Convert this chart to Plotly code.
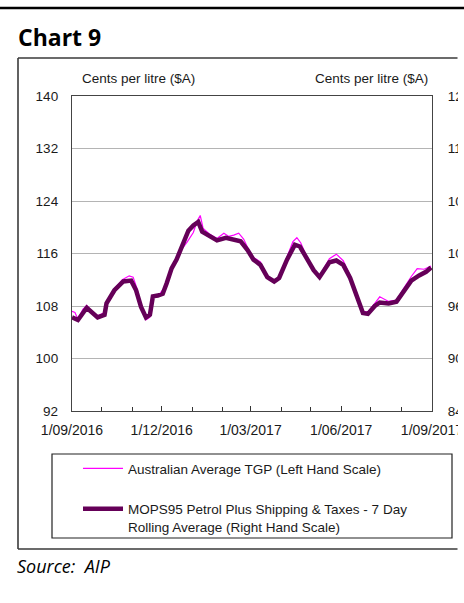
import plotly.graph_objects as go

# ---------------- data ----------------
tgp_dates = ["2016-09-01","2016-09-04","2016-09-07","2016-09-12","2016-09-16","2016-09-21","2016-09-27",
             "2016-10-04","2016-10-07","2016-10-14","2016-10-22","2016-10-29","2016-11-02","2016-11-06",
             "2016-11-10","2016-11-15","2016-11-19","2016-11-22","2016-11-28","2016-12-02","2016-12-06",
             "2016-12-11","2016-12-16","2016-12-21","2016-12-27","2017-01-02","2017-01-06","2017-01-09",
             "2017-01-12","2017-01-18","2017-01-26","2017-02-02","2017-02-07","2017-02-12","2017-02-17",
             "2017-02-22","2017-02-27","2017-03-04","2017-03-11","2017-03-18","2017-03-25","2017-03-30",
             "2017-04-07","2017-04-13","2017-04-17","2017-04-21","2017-04-27","2017-05-04","2017-05-10",
             "2017-05-15","2017-05-20","2017-05-27","2017-06-03","2017-06-10","2017-06-16","2017-06-23",
             "2017-06-28","2017-07-05","2017-07-10","2017-07-19","2017-07-27","2017-08-03","2017-08-11",
             "2017-08-17","2017-08-24","2017-08-31"]
tgp_values = [107.2,107.0,106.0,107.5,108.1,107.2,106.5,
              107.0,108.8,110.6,112.0,112.6,112.4,110.6,
              108.0,105.9,106.3,109.2,109.7,110.4,111.2,
              113.5,115.2,116.6,117.8,119.2,121.0,121.8,
              119.8,119.0,118.3,119.1,118.6,118.8,119.1,
              118.2,116.6,115.4,114.7,112.6,111.8,112.4,
              115.4,117.8,118.4,117.6,115.5,113.6,112.6,
              113.8,115.2,115.9,114.9,112.6,109.8,107.2,
              107.1,108.4,109.4,108.7,108.9,110.6,112.5,
              113.7,113.6,114.1]

mops_dates = ["2016-09-01","2016-09-07","2016-09-16","2016-09-27","2016-10-04","2016-10-06","2016-10-14",
              "2016-10-23","2016-10-31","2016-11-05","2016-11-10","2016-11-15","2016-11-19","2016-11-22",
              "2016-11-27","2016-12-02","2016-12-06","2016-12-11","2016-12-16","2016-12-21","2016-12-28",
              "2017-01-02","2017-01-07","2017-01-11","2017-01-18","2017-01-26","2017-02-04","2017-02-12",
              "2017-02-19","2017-02-26","2017-03-04","2017-03-11","2017-03-18","2017-03-25","2017-03-30",
              "2017-04-07","2017-04-15","2017-04-20","2017-04-27","2017-05-04","2017-05-10","2017-05-15",
              "2017-05-20","2017-05-27","2017-06-03","2017-06-10","2017-06-16","2017-06-23","2017-06-28",
              "2017-07-05","2017-07-10","2017-07-19","2017-07-27","2017-08-03","2017-08-11","2017-08-19",
              "2017-08-26","2017-08-31"]
mops_values = [94.7,94.4,95.8,94.7,95.0,96.3,97.8,
               98.8,98.9,97.8,95.9,94.7,95.0,97.1,
               97.2,97.4,98.6,100.3,101.3,102.8,104.6,
               105.2,105.6,104.5,104.1,103.5,103.8,103.6,
               103.4,102.4,101.3,100.7,99.3,98.8,99.2,
               101.3,103.0,102.8,101.4,100.1,99.3,100.1,
               101.0,101.2,100.7,99.2,97.2,95.2,95.1,
               96.0,96.4,96.3,96.5,97.6,98.9,99.5,
               99.9,100.4]

left_ticks = [92, 100, 108, 116, 124, 132, 140]
right_ticks = [84, 90, 96, 102, 108, 114, 120]
x_tick_vals = ["2016-09-01", "2016-12-01", "2017-03-01", "2017-06-01", "2017-09-01"]
x_tick_text = ["1/09/2016", "1/12/2016", "1/03/2017", "1/06/2017", "1/09/2017"]

tgp_name = "Australian Average TGP (Left Hand Scale)"
mops_name = "MOPS95 Petrol Plus Shipping & Taxes - 7 Day<br>Rolling Average (Right Hand Scale)"

# ---------------- layout helpers ----------------
W, H = 464, 603
L, R, T, B = 72, 432, 96, 411
CLIP = 457.5  # the source image is cropped at this x


def px(x):
    return (x - L) / (R - L)


def py(y):
    return (B - y) / (B - T)


FONT = "Liberation Sans, Arial, sans-serif"
TXT = "#1a1a1a"

fig = go.Figure()
fig.add_trace(go.Scatter(x=tgp_dates, y=tgp_values, mode="lines", name=tgp_name,
                         line=dict(color="#ff00ff", width=1.2), legendgroup="a", yaxis="y"))
fig.add_trace(go.Scatter(x=mops_dates, y=mops_values, mode="lines", name=mops_name,
                         line=dict(color="#650058", width=4.5), legendgroup="b", yaxis="y2"))

fig.update_layout(
    width=W, height=H,
    margin=dict(l=L, r=W - R, t=T, b=H - B, autoexpand=False),
    paper_bgcolor="white", plot_bgcolor="white",
    font=dict(family=FONT, color=TXT),
    showlegend=True,
    legend=dict(x=px(78), y=py(453), xanchor="left", yanchor="top",
                bgcolor="rgba(0,0,0,0)", borderwidth=0, valign="top",
                font=dict(family=FONT, size=13.5, color=TXT),
                traceorder="grouped", tracegroupgap=20, itemwidth=40),
    xaxis=dict(type="date", range=["2016-09-01", "2017-09-01"],
               tickvals=x_tick_vals, ticktext=x_tick_text,
               ticks="inside", ticklen=5, tickwidth=1.3, tickcolor="#333",
               minor=dict(dtick="M1", tick0="2016-09-01", ticks="inside", ticklen=4,
                          tickwidth=1.3, tickcolor="#333", showgrid=False),
               showline=True, linecolor="#444", linewidth=1.3, mirror=True,
               showgrid=False, zeroline=False,
               tickfont=dict(family=FONT, size=14, color=TXT), ticklabelstandoff=6),
    yaxis=dict(range=[92, 140], tickvals=left_ticks, ticks="",
               showline=True, linecolor="#444", linewidth=1.3,
               showgrid=True, gridcolor="#b4b4b4", gridwidth=1.2, zeroline=False,
               tickfont=dict(family=FONT, size=13.5, color=TXT), ticklabelstandoff=10),
    yaxis2=dict(range=[84, 120], tickvals=right_ticks, overlaying="y", side="right",
                ticks="", showline=True, linecolor="#444", linewidth=1.3,
                showgrid=False, zeroline=False,
                tickfont=dict(family=FONT, size=13.5, color=TXT), ticklabelstandoff=12),
)

shapes = [
    # outer chart frame (continues past the cropped right edge)
    dict(type="line", xref="paper", yref="paper", x0=px(18), x1=px(CLIP), y0=py(58), y1=py(58),
         line=dict(color="#3a3a3a", width=1.6), layer="above"),
    dict(type="line", xref="paper", yref="paper", x0=px(18), x1=px(CLIP), y0=py(549), y1=py(549),
         line=dict(color="#3a3a3a", width=1.6), layer="above"),
    dict(type="line", xref="paper", yref="paper", x0=px(18), x1=px(18), y0=py(58), y1=py(549),
         line=dict(color="#3a3a3a", width=1.6), layer="above"),
    # legend box
    dict(type="rect", xref="paper", yref="paper", x0=px(52), x1=px(452), y0=py(454), y1=py(538),
         line=dict(color="#222", width=1.2), fillcolor="rgba(0,0,0,0)", layer="above"),
    # top rule
    dict(type="line", xref="paper", yref="paper", x0=px(0), x1=px(464), y0=py(8), y1=py(8),
         line=dict(color="black", width=2.6), layer="above"),
]
fig.update_layout(shapes=shapes)

annotations = [
    dict(text="<b>Chart 9</b>", x=px(16), y=py(37), xanchor="left", yanchor="middle",
         font=dict(family="Open Sans, Lato, sans-serif", size=23, color="black")),
    dict(text="Cents per litre ($A)", x=px(80), y=py(78), xanchor="left", yanchor="middle",
         font=dict(family=FONT, size=13.5, color=TXT)),
    dict(text="Cents per litre ($A)", x=px(430), y=py(78), xanchor="right", yanchor="middle",
         font=dict(family=FONT, size=13.5, color=TXT)),
    dict(text="<i>Source:  AIP</i>", x=px(15), y=py(566), xanchor="left", yanchor="middle",
         font=dict(family="Open Sans, Lato, sans-serif", size=18, color="black")),
    # white mask reproducing the crop of the source image at its right edge
    dict(text=" ", x=px(CLIP), y=py(30), xanchor="left", yanchor="top",
         width=12, height=560, bgcolor="white", borderpad=0, borderwidth=0,
         font=dict(size=2, color="white")),
]
for a in annotations:
    a.update(xref="paper", yref="paper", showarrow=False)
fig.update_layout(annotations=annotations)

fig.write_html("out.html", config={"displayModeBar": False},
               post_script="document.body.style.margin='0';document.body.style.overflow='hidden';")
